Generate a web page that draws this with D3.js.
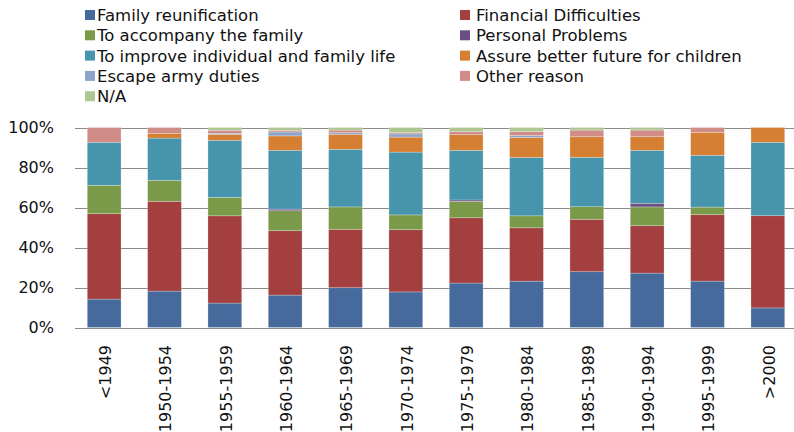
<!DOCTYPE html>
<html>
<head>
<meta charset="utf-8">
<script src="https://cdn.jsdelivr.net/npm/d3@7"></script>
<style>
  body { margin: 0; background: #fff; }
  svg { display: block; font-family: "DejaVu Sans", sans-serif; }
</style>
</head>
<body>
<div id="chart"></div>
<script>
const categories = ['<1949', '1950-1954', '1955-1959', '1960-1964', '1965-1969', '1970-1974',
    '1975-1979', '1980-1984', '1985-1989', '1990-1994', '1995-1999', '>2000'];

const seriesNames = ['Family reunification', 'Financial Difficulties', 'To accompany the family',
    'Personal Problems', 'To improve individual and family life', 'Assure better future for children',
    'Escape army duties', 'Other reason', 'N/A'];

const familyReunification = [14.2, 18.2, 12.2, 16.2, 19.9, 17.8, 22.2, 23.2, 27.9, 27.2, 23.2, 9.8];
const financialDifficulties = [42.7, 44.9, 43.6, 32.2, 29.2, 31.1, 32.6, 26.7, 26.2, 23.7, 33.2, 46.1];
const accompanyFamily = [14.2, 10.5, 9.2, 10.0, 11.2, 7.4, 8.2, 6.0, 6.3, 9.4, 3.8, 0];
const personalProblems = [0, 0, 0, 0.8, 0, 0, 0.7, 0, 0, 1.8, 0, 0];
const improveLife = [21.5, 21.1, 28.5, 29.4, 28.8, 31.4, 24.8, 29.2, 24.7, 26.5, 25.9, 36.7];
const betterFuture = [0, 2.4, 3.0, 7.2, 7.5, 7.5, 7.8, 10.0, 10.3, 6.8, 11.5, 7.4];
const armyDuties = [0, 0, 0.5, 2.0, 0.8, 1.6, 0, 1.0, 0, 0, 0, 0];
const otherReason = [7.4, 2.9, 1.5, 0.8, 1.3, 0.6, 1.5, 2.0, 3.3, 3.3, 2.4, 0];
const notAvailable = [0, 0, 1.4, 1.4, 1.3, 2.6, 2.1, 2.0, 1.3, 1.3, 0, 0];

const yTicks = [0, 0.2, 0.4, 0.6, 0.8, 1];

const seriesValues = [familyReunification, financialDifficulties, accompanyFamily, personalProblems,
    improveLife, betterFuture, armyDuties, otherReason, notAvailable];

const colors = ['#466a9b', '#a33f3f', '#7a9a49', '#6a4f82', '#4695ac', '#d57f33', '#8ea5cb', '#d08c86', '#adc692'];

const width = 794, height = 432;
const plot = { left: 74, right: 798, top: 127.5, bottom: 327.5 };

// rows for d3.stack
const rows = categories.map((c, i) => {
    const r = { cat: c };
    seriesNames.forEach((s, k) => { r[s] = seriesValues[k][i]; });
    return r;
});

const stacked = d3.stack()
    .keys(seriesNames)
    .offset(d3.stackOffsetExpand)(rows);

const svg = d3.select('#chart').append('svg')
    .attr('width', width)
    .attr('height', height);

const x = d3.scaleBand()
    .domain(categories)
    .range([plot.left, plot.right])
    .paddingInner(0.44)
    .paddingOuter(0.22);

const y = d3.scaleLinear()
    .domain([0, 1])
    .range([plot.bottom, plot.top]);

const color = d3.scaleOrdinal().domain(seriesNames).range(colors);

// gridlines
svg.append('g')
    .selectAll('line')
    .data(yTicks)
    .join('line')
    .attr('x1', plot.left + 1)
    .attr('x2', width)
    .attr('y1', d => Math.round(y(d)) + 0.5)
    .attr('y2', d => Math.round(y(d)) + 0.5)
    .attr('stroke', '#8a8a8a')
    .attr('stroke-width', 1.2);

// y labels
svg.append('g')
    .selectAll('text')
    .data(yTicks)
    .join('text')
    .attr('x', 54)
    .attr('y', d => y(d))
    .attr('dy', '0.36em')
    .attr('text-anchor', 'end')
    .attr('font-size', 16)
    .attr('fill', '#111')
    .text(d3.format('.0%'));

// bars
svg.append('g')
    .selectAll('g')
    .data(stacked)
    .join('g')
    .attr('fill', d => color(d.key))
    .selectAll('rect')
    .data(d => d)
    .join('rect')
    .attr('x', d => x(d.data.cat))
    .attr('width', x.bandwidth())
    .attr('y', d => y(d[1]))
    .attr('height', d => Math.max(0, y(d[0]) - y(d[1])))
    .attr('stroke', 'rgba(255,255,255,0.35)')
    .attr('stroke-width', 0.7);

// x labels (rotated)
svg.append('g')
    .selectAll('text')
    .data(categories)
    .join('text')
    .attr('transform', d => `translate(${x(d) + x.bandwidth() / 2 + 1},345) rotate(-90)`)
    .attr('dy', '0.36em')
    .attr('text-anchor', 'end')
    .attr('font-size', 16)
    .attr('fill', '#111')
    .text(d => d);

// legend, two columns
const legend = svg.append('g')
    .selectAll('g')
    .data(seriesNames)
    .join('g')
    .attr('transform', (d, i) => {
        const col = i % 2, row = Math.floor(i / 2);
        return `translate(${col ? 460 : 85},${15 + row * 20.3})`;
    });

legend.append('rect')
    .attr('x', 0)
    .attr('y', -5)
    .attr('width', 10)
    .attr('height', 10)
    .attr('fill', d => color(d));

legend.append('text')
    .attr('x', (d, i) => i % 2 ? 16 : 12)
    .attr('dy', '0.36em')
    .attr('font-size', 16.5)
    .attr('fill', '#111')
    .text(d => d);
</script>
</body>
</html>
